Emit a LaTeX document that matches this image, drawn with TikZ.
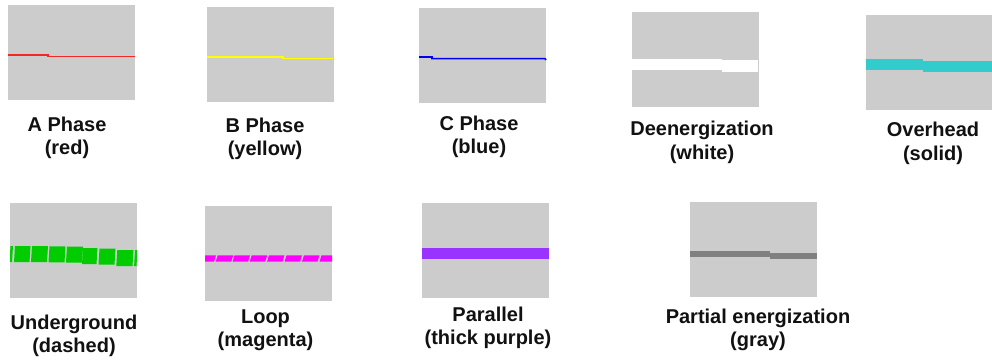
\documentclass[tikz,border=0pt]{standalone}
\usepackage{fontspec}
\setmainfont{Liberation Sans}
\definecolor{panelgray}{HTML}{CCCCCC}
\definecolor{ared}{HTML}{F02828}
\definecolor{byellow}{HTML}{FFFF00}
\definecolor{cblue}{HTML}{0000F0}
\definecolor{ecyan}{HTML}{33CCCC}
\definecolor{fgreen}{HTML}{00CC00}
\definecolor{gmag}{HTML}{FF00FF}
\definecolor{hpurple}{HTML}{9933FF}
\definecolor{igray}{HTML}{808080}
\definecolor{txt}{HTML}{111111}
\begin{document}
\begin{tikzpicture}[x=1pt,y=-1pt,
  panel/.style={fill=panelgray,draw=none,inner sep=0pt,outer sep=0pt,minimum width=127pt,minimum height=95pt},
  lbl/.style={font=\fontsize{20}{23.5}\selectfont\bfseries,text=txt,align=center,anchor=base,inner sep=0pt},
  thinline/.style={line width=1.6pt,line join=miter}
]
\useasboundingbox (0,0) rectangle (992,362);
\fill[white] (0,0) rectangle (992,362);

% panels
\node[panel] (pA) at (71.5,52.5) {};
\node[panel] (pB) at (270,54.5) {};
\node[panel] (pC) at (482.5,55.5) {};
\node[panel] (pD) at (695,59.5) {};
\node[panel,minimum width=126pt] (pE) at (929,62) {};
\node[panel] (pF) at (73.5,250.5) {};
\node[panel] (pG) at (268.5,253.5) {};
\node[panel] (pH) at (485.5,250.5) {};
\node[panel] (pI) at (753.5,249.5) {};

% A phase (red)
\draw[thinline,ared] (8,55) -- (48,55) -- (48,56.6) -- (135,56.6);
% B phase (yellow)
\draw[thinline,byellow] (207,57) -- (283,57) -- (283,58.6) -- (333,58.6);
% C phase (blue)
\draw[thinline,cblue] (419,57) -- (432,57) -- (432,58.6) -- (545,58.6) -- (546,60);
% Deenergization (white)
\fill[white] (632,59) rectangle (722,70);
\fill[white] (722,60) rectangle (758,72);
% Overhead (solid cyan)
\fill[ecyan] (866,59) rectangle (923,70);
\fill[ecyan] (923,61) rectangle (992,72);
% Underground (dashed green)
\begin{scope}
\clip (10,203) rectangle (137,298);
\foreach \xa/\xb/\yt in {10/12.5/246,14.5/30/246,31.5/47.5/246,49/65/246.3,66.5/82.5/246.6,82.5/97/248,99/115/248.5,116.8/133/250,134.6/137/250}
  \fill[fgreen] (\xa+0.5,\yt) -- (\xb+0.5,\yt) -- (\xb-0.5,\yt+16) -- (\xa-0.5,\yt+16) -- cycle;
\end{scope}
% Loop (dashed magenta)
\begin{scope}
\clip (205,206) rectangle (332,301);
\foreach \xa in {199.5,216.7,233.5,250.7,268,285.5,303,320.5}
  \fill[gmag] (\xa+1,255.3) -- (\xa+16.5,255.3) -- (\xa+14.5,261.7) -- (\xa-1,261.7) -- cycle;
\end{scope}
% Parallel (thick purple)
\fill[hpurple] (422,248) rectangle (549,259);
% Partial energization (gray)
\fill[igray] (690,251) rectangle (770,257);
\fill[igray] (770,253) rectangle (817,259);

% labels (anchor=base is the baseline of the last line)
\node[lbl] (tA) at (67,154.5) {A Phase\\(red)};
\node[lbl] (tB) at (265,155.5) {B Phase\\(yellow)};
\node[lbl] (tC) at (479,153.5) {C Phase\\(blue)};
\node[lbl] (tD) at (702,159) {Deenergization\\(white)};
\node[lbl] (tE) at (933,160) {Overhead\\(solid)};
\node[lbl] (tF) at (74,352.5) {Underground\\(dashed)};
\node[lbl] (tG) at (265.5,346.5) {Loop\\(magenta)};
\node[lbl] (tH) at (488,344.5) {Parallel\\(thick purple)};
\node[lbl] (tI) at (758,346.5) {Partial energization\\(gray)};
\end{tikzpicture}
\end{document}
